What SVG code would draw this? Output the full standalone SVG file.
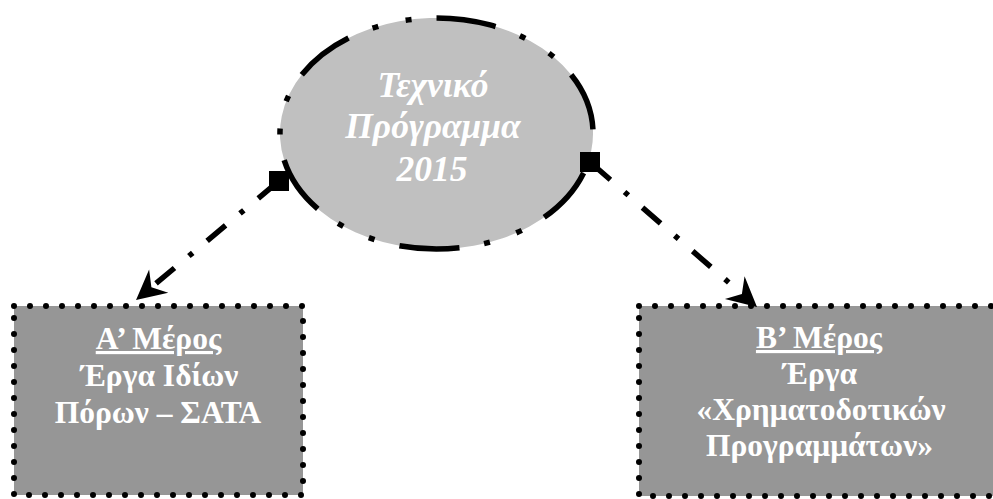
<svg xmlns="http://www.w3.org/2000/svg" width="993" height="499" viewBox="0 0 993 499">
  <style>
    .ell { fill: #C0C0C0; stroke: #000; stroke-width: 5.5; stroke-dasharray: 60 26 6 28 6 25; }
    .box { stroke: #000; stroke-width: 6; stroke-dasharray: 0 16; stroke-linecap: round; fill: #969696; }
    .t-ell { font-family: "Liberation Serif", "Times New Roman", serif; font-weight: bold; font-style: italic; font-size: 35.5px; fill: #fff; text-anchor: middle; }
    .t-box { font-family: "Liberation Serif", "Times New Roman", serif; font-weight: bold; font-size: 31.5px; fill: #fff; text-anchor: middle; }
    .u { text-decoration: underline; }
    .conn { fill: none; stroke: #000; stroke-width: 5.5; stroke-dasharray: 24 18.75 5 18.75; stroke-dashoffset: -3; marker-start: url(#sq); marker-end: url(#arr); }
  </style>
  <defs>
    <marker id="sq" markerUnits="userSpaceOnUse" orient="0" markerWidth="20" markerHeight="20" viewBox="-10 -10 20 20" refX="0" refY="0">
      <rect x="-10" y="-10" width="20" height="20" fill="#000"/>
    </marker>
    <marker id="arr" markerUnits="userSpaceOnUse" orient="auto" markerWidth="31" markerHeight="32" viewBox="-10 -16 31 32" refX="0" refY="0">
      <path d="M20,0 L-9.5,-15 L0,0 L-9.5,15 Z" fill="#000"/>
    </marker>
  </defs>

  <g id="node-technical-program">
    <path class="ell" pathLength="860" d="M583.6,173 A156.5,115.5 0 0 1 289.4,94 A156.5,115.5 0 0 1 583.6,173 Z"/>
    <text class="t-ell" x="433" y="97">Τεχνικό</text>
    <text class="t-ell" x="433" y="138">Πρόγραμμα</text>
    <text class="t-ell" x="432" y="181">2015</text>
  </g>

  <g id="node-part-a">
    <rect class="box" x="14" y="306" width="289" height="189"/>
    <text class="t-box u" x="158.5" y="349">Α’ Μέρος</text>
    <text class="t-box" x="159.5" y="386">Έργα Ιδίων</text>
    <text class="t-box" x="158" y="423">Πόρων – ΣΑΤΑ</text>
  </g>

  <g id="node-part-b">
    <rect class="box" x="639" y="306" width="400" height="190"/>
    <text class="t-box u" x="819" y="348">Β’ Μέρος</text>
    <text class="t-box" x="820" y="384">Έργα</text>
    <text class="t-box" x="821" y="420">«Χρηματοδοτικών</text>
    <text class="t-box" x="819.5" y="456">Προγραμμάτων»</text>
  </g>

  <g id="connectors">
    <path class="conn" d="M279,181 L151.4,287.2"/>
    <path class="conn" d="M590,162 L741.9,293.9"/>
  </g>
</svg>
